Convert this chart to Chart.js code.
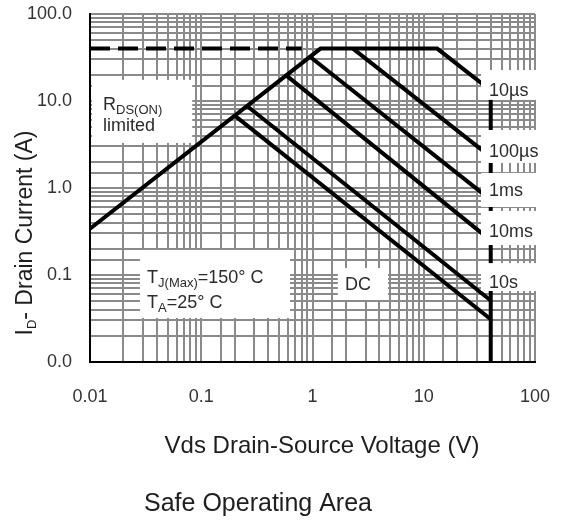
<!DOCTYPE html>
<html>
<head>
<meta charset="utf-8">
<title>Safe Operating Area</title>
<script src="https://cdn.jsdelivr.net/npm/chart.js@4.4.1/dist/chart.umd.min.js"></script>
<style>
  body { margin: 0; background: #fff; }
  canvas { display: block; }
</style>
</head>
<body>
<canvas id="soa" width="561" height="522"></canvas>
<script>
// valeurs (V, A)
var limiteV = [0.01, 1.18, 13.2, 40, 40];
var limiteI = [0.34, 40, 40, 13.2, 0.01];
var pointillesV = [0.01, 0.8];
var pointillesI = [40, 40];
var us100V = [2.31, 40];
var us100I = [40, 2.28];
var ms1V = [0.95, 40];
var ms1I = [32.3, 0.73];
var ms10V = [0.58, 40];
var ms10I = [19.7, 0.25];
var s10V = [0.258, 40];
var s10I = [8.77, 0.051];
var dcV = [0.2, 40];
var dcI = [6.8, 0.031];

var xLabels = ['0.01', '0.1', '1', '10', '100'];
var yLabels = ['0.0', '0.1', '1.0', '10.0', '100.0'];

var etiquettes = ['10\u00b5s', '100\u00b5s', '1ms', '10ms', '10s'];
var etiquettesI = [13.0, 2.59, 0.924, 0.312, 0.0809];

var police = 'Liberation Sans, Arial, sans-serif';

function pts(vs, is) {
    return vs.map(function(v, k) { return {x: v, y: is[k]}; });
}

function labelDecade(v, liste) {
    var e = Math.log10(v);
    if (Math.abs(e - Math.round(e)) > 1e-6)
        return '';
    var l = liste[Math.round(e) + 2];
    return l === undefined ? '' : l;
}

// texte avec indices
function ecrire(ctx, morceaux, x, y, taille) {
    var cx = x;
    morceaux.forEach(function(m) {
        var t = m[1] ? 13 : taille;
        ctx.font = t + 'px ' + police;
        ctx.fillText(m[0], cx, y + (m[1] ? 4 : 0));
        cx += ctx.measureText(m[0]).width;
    });
}

function largeur(ctx, morceaux, taille) {
    var w = 0;
    morceaux.forEach(function(m) {
        ctx.font = (m[1] ? 13 : taille) + 'px ' + police;
        w += ctx.measureText(m[0]).width;
    });
    return w;
}

var habillage = {
    id: 'habillage',
    afterDatasetsDraw: function(chart) {
        var ctx = chart.ctx;
        var sx = chart.scales.x, sy = chart.scales.y;
        function px(v) { return sx.getPixelForValue(v); }
        function py(i) { return sy.getPixelForValue(i); }

        // fonds blancs sous les textes
        var caches = [
            [0.0104, 17.5, 0.083, 3.3],
            [0.0281, 0.194, 0.628, 0.0321],
            [1.69, 0.12, 4.77, 0.0516],
            [32.7, 22.7, 131, 10.3],
            [32.7, 4.64, 131, 1.94],
            [32.7, 1.49, 131, 0.605],
            [32.7, 0.545, 131, 0.221],
            [32.7, 0.137, 131, 0.0655]
        ];
        ctx.save();
        ctx.fillStyle = '#fff';
        caches.forEach(function(c) {
            var x1 = px(c[0]), y1 = py(c[1]);
            ctx.fillRect(x1, y1, px(c[2]) - x1, py(c[3]) - y1);
        });

        ctx.fillStyle = '#2b2b2b';
        ctx.textAlign = 'left';
        ctx.textBaseline = 'alphabetic';

        var xr = px(0.0131), yr = py(7.88);
        ecrire(ctx, [['R', 0], ['DS(ON)', 1]], xr, yr, 18);
        ecrire(ctx, [['limited', 0]], xr, yr + 21, 18);

        var xt = px(0.0326), yt = py(0.0809);
        ecrire(ctx, [['T', 0], ['J(Max)', 1], ['=150\u00b0 C', 0]], xt, yt, 18);
        ecrire(ctx, [['T', 0], ['A', 1], ['=25\u00b0 C', 0]], xt, yt + 25, 18);

        ctx.textAlign = 'center';
        ctx.textBaseline = 'middle';
        ctx.font = '18px ' + police;
        ctx.fillText('DC', px(2.56), py(0.0767));

        ctx.textAlign = 'left';
        etiquettes.forEach(function(e, k) {
            ctx.fillText(e, px(38.6), py(etiquettesI[k]));
        });

        // titres des axes
        ctx.textBaseline = 'alphabetic';
        ctx.fillStyle = '#1e1e1e';
        ctx.textAlign = 'center';
        ctx.font = '24px ' + police;
        ctx.fillText('Vds Drain-Source Voltage (V)', 322, 453);
        ctx.font = '25px ' + police;
        ctx.fillText('Safe Operating Area', 258, 511);

        ctx.textAlign = 'left';
        var titreY = [['I', 0], ['D', 1], ['- Drain Current (A)', 0]];
        ctx.translate(32, 233);
        ctx.rotate(-Math.PI / 2);
        ecrire(ctx, titreY, -largeur(ctx, titreY, 23) / 2, 0, 23);
        ctx.restore();
    }
};

function trait(nom, data, tirets) {
    return {
        label: nom,
        data: data,
        borderColor: '#000',
        borderWidth: 4,
        borderDash: tirets || [],
        borderJoinStyle: 'miter',
        borderCapStyle: 'butt',
        pointRadius: 0,
        fill: false,
        tension: 0
    };
}

var grille = { color: '#8a8a8a', lineWidth: 2, drawTicks: false };

new Chart(document.getElementById('soa'), {
    type: 'line',
    data: {
        datasets: [
            trait('limite', pts(limiteV, limiteI)),
            trait('courant max', pts(pointillesV, pointillesI), [20, 8]),
            trait('100us', pts(us100V, us100I)),
            trait('1ms', pts(ms1V, ms1I)),
            trait('10ms', pts(ms10V, ms10I)),
            trait('10s', pts(s10V, s10I)),
            trait('DC', pts(dcV, dcI))
        ]
    },
    options: {
        responsive: false,
        animation: false,
        layout: { padding: { top: 14, right: 26, left: 0, bottom: 0 } },
        plugins: {
            legend: { display: false },
            tooltip: { enabled: false }
        },
        scales: {
            x: {
                type: 'logarithmic',
                min: 0.01,
                max: 100,
                afterFit: function(s) {
                    s.height = 160;
                    s.paddingLeft = 0;
                    s.paddingRight = 0;
                },
                grid: grille,
                border: { color: '#000', width: 2 },
                ticks: {
                    autoSkip: false,
                    maxRotation: 0,
                    padding: 24,
                    color: '#333',
                    font: { family: police, size: 18 },
                    callback: function(v) { return labelDecade(v, xLabels); }
                }
            },
            y: {
                type: 'logarithmic',
                min: 0.01,
                max: 100,
                afterFit: function(s) {
                    s.width = 90;
                    s.paddingTop = 0;
                    s.paddingBottom = 0;
                },
                grid: grille,
                border: { color: '#000', width: 2 },
                ticks: {
                    autoSkip: false,
                    padding: 18,
                    color: '#333',
                    font: { family: police, size: 18 },
                    callback: function(v) { return labelDecade(v, yLabels); }
                }
            }
        }
    },
    plugins: [habillage]
});
</script>
</body>
</html>
